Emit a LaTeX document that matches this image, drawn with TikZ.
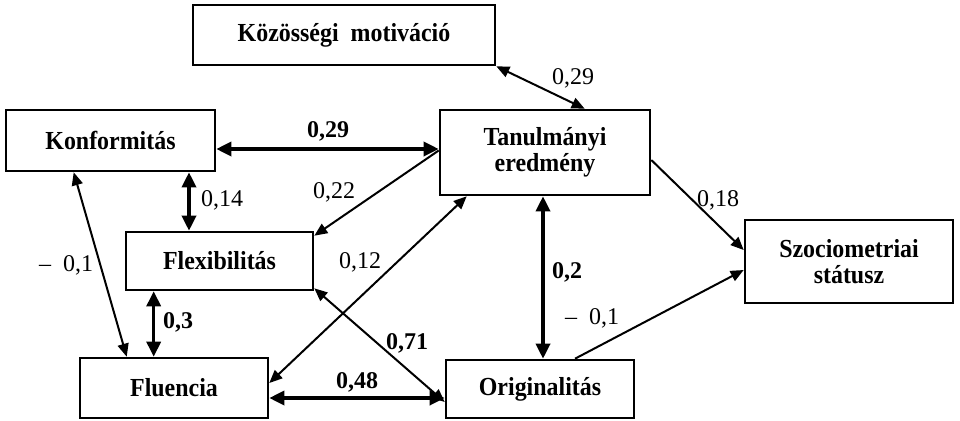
\documentclass[tikz,border=0pt]{standalone}
\usepackage{fontspec}
\setmainfont{Liberation Serif}
\newfontfamily\boxfont[FakeStretch=0.92]{Liberation Serif}
\usetikzlibrary{arrows.meta,calc}
\begin{document}
\begin{tikzpicture}[x=1pt,y=-1pt,
 box/.style={draw,line width=2.6pt,inner sep=0pt,align=center,font=\boxfont\fontsize{26}{26}\selectfont\bfseries},
 thickarr/.style={line width=3.4pt,{Triangle[length=15pt,width=14pt]}-{Triangle[length=15pt,width=14pt]}},
 thinarr/.style={line width=2pt,{Triangle[length=13pt,width=11pt]}-{Triangle[length=13pt,width=11pt]}},
 onearr/.style={line width=2pt,-{Triangle[length=13pt,width=11pt]}},
 lab/.style={font=\fontsize{24}{26}\selectfont, inner sep=0pt},
 blab/.style={font=\fontsize{24}{26}\selectfont\bfseries, inner sep=0pt}]
\useasboundingbox (0,0) rectangle (960,420);
% boxes
\node[box,minimum width=302pt,minimum height=60pt] (koz) at (344,35) {Közösségi\ \ motiváció};
\node[box,minimum width=209pt,minimum height=61pt] (konf) at (110.5,140.5) {Konformitás};
\node[box,minimum width=187pt,minimum height=58pt] (flex) at (219.5,261) {Flexibilitás};
\node[box,minimum width=188pt,minimum height=60pt] (flu) at (174,388) {Fluencia};
\node[box,minimum width=210pt,minimum height=85pt] (tan) at (545,152.5) {Tanulmányi\\eredmény};
\node[box,minimum width=188pt,minimum height=58pt] (orig) at (540,389) {Originalitás};
\node[box,minimum width=208pt,minimum height=83pt] (szoc) at (849,261.5) {Szociometriai\\státusz};
% connectors
\draw[thinarr] (koz.south east) -- ([xshift=146pt]tan.north west);
\draw[thickarr] ([yshift=-8.5pt]konf.east) -- ([yshift=3.5pt]tan.west);
\draw[onearr] ([yshift=2pt]tan.west) -- ([yshift=-5pt]flex.north east);
\draw[thickarr] ([xshift=78.5pt]konf.south) -- ([xshift=78.5pt]konf.south |- flex.north);
\draw[thinarr] ([xshift=69pt]konf.south west) -- ([xshift=48pt]flu.north west);
\draw[thickarr] ([xshift=29pt]flex.south west) -- ([xshift=29pt]flex.south west |- flu.north);
\draw[thinarr] ([yshift=5pt]flu.east) -- ([xshift=28pt]tan.south west);
\draw[thinarr] ([yshift=3pt]flex.south east) -- ([yshift=-13pt]orig.west);
\draw[thickarr] ([yshift=-10pt]flu.east) -- ([yshift=-9pt]orig.west);
\draw[thickarr] ([xshift=-2pt]tan.south) -- ([xshift=-2pt]tan.south |- orig.north);
\draw[onearr] ([yshift=-7.5pt]tan.east) -- ([yshift=11.5pt]szoc.west);
\draw[onearr] ([xshift=35pt]orig.north) -- ([yshift=-8.5pt]szoc.west);
% labels
\node[lab] (l1) at (573,78) {0,29};
\node[blab] (l2) at (328,131) {0,29};
\node[lab] (l3) at (222,200) {0,14};
\node[lab] (l4) at (334,192) {0,22};
\node[lab] (l5) at (66,265) {–\ \ 0,1};
\node[lab] (l6) at (360,262) {0,12};
\node[blab] (l7) at (178,322) {0,3};
\node[blab] (l8) at (407,343) {0,71};
\node[blab] (l9) at (357,382) {0,48};
\node[blab] (l10) at (567,272) {0,2};
\node[lab] (l11) at (718,200) {0,18};
\node[lab] (l12) at (592,318) {–\ \ 0,1};
\end{tikzpicture}
\end{document}
